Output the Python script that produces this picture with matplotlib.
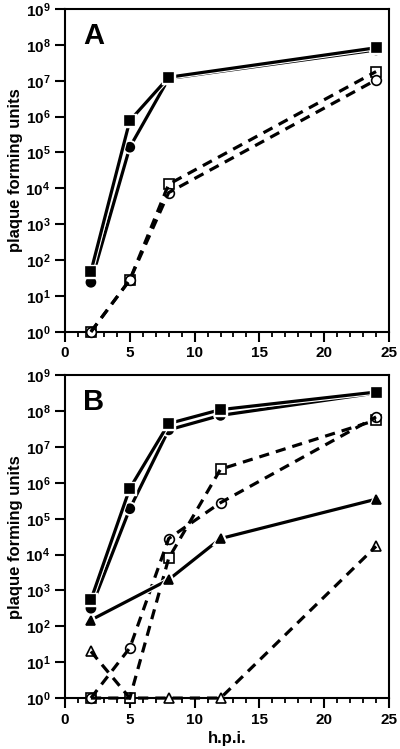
import numpy as np
import matplotlib
matplotlib.use("Agg")
import matplotlib.pyplot as plt
import matplotlib.patheffects as pe
from matplotlib.ticker import FixedLocator, MultipleLocator, FixedFormatter

plt.rcParams['font.family'] = ['Liberation Sans', 'DejaVu Sans']
plt.rcParams['font.weight'] = 'bold'
plt.rcParams['mathtext.fontset'] = 'custom'
plt.rcParams['mathtext.rm'] = 'Liberation Sans:bold'
plt.rcParams['mathtext.bf'] = 'Liberation Sans:bold'

# --- Panel A data (hours post infection, pfu) ---
a_x = [2, 5, 8, 24]
a_fsq = [48, 7.7e5, 1.25e7, 8.3e7]     # filled squares, solid
a_fci = [24, 1.4e5, 1.15e7, 7.2e7]     # filled circles, solid
a_osq = [1, 28, 1.3e4, 1.8e7]          # open squares, dashed
a_oci = [1, 28, 7.6e3, 1.05e7]         # open circles, dashed

# --- Panel B data ---
b_x = [2, 5, 8, 12, 24]
b_fsq = [550, 7e5, 4.5e7, 1.1e8, 3.4e8]
b_fci = [320, 1.9e5, 3.0e7, 7.6e7, 3.2e8]
b_osq = [1, 1, 7.9e3, 2.4e6, 5.6e7]
b_oci = [1, 25, 2.8e4, 2.8e5, 6.9e7]
b_ftr = [150, None, 2.0e3, 2.8e4, 3.5e5]
b_otr = [20, 1, 1, 1, 1.7e4]

xticks = [0, 5, 10, 15, 20, 25]
ydecades = list(range(0, 10))
ytick_labels = [r'$\mathbf{10^{%d}}$' % d for d in ydecades]

LW = 2.3
halo = [pe.Stroke(linewidth=LW + 1.6, foreground='white'), pe.Normal()]


def series(ax, x, y, marker, filled, dashed):
    pts = [(xi, yi) for xi, yi in zip(x, y) if yi is not None]
    xs = [p[0] for p in pts]
    ys = [p[1] for p in pts]
    ls = (0, (3.2, 2.2)) if dashed else '-'
    face = 'black' if filled else 'white'
    if filled:
        ax.plot(xs, ys, color='black', lw=LW, ls=ls, marker=marker, ms=6.5,
                mfc=face, mec='black', mew=1.2, zorder=4, clip_on=False,
                path_effects=halo)
    else:
        ax.plot(xs, ys, ls='none', marker=marker, ms=7, mfc=face,
                mec='black', mew=1.2, zorder=3, clip_on=False)
        ax.plot(xs, ys, color='black', lw=LW, ls=ls, zorder=4,
                clip_on=False)


def style(ax, letter, xlabel):
    ax.set_yscale('log')
    ax.set_xlim(0, 25)
    ax.set_ylim(1, 1e9)
    ax.yaxis.set_major_locator(FixedLocator([10.0 ** d for d in ydecades]))
    ax.yaxis.set_major_formatter(FixedFormatter(ytick_labels))
    ax.yaxis.set_minor_locator(FixedLocator([]))
    ax.set_xticks(xticks)
    ax.xaxis.set_minor_locator(MultipleLocator(1))
    ax.tick_params(which='major', direction='out', length=7, width=1.5,
                   labelsize=11)
    ax.tick_params(which='minor', direction='out', length=3.5, width=1.3)
    for s in ax.spines.values():
        s.set_linewidth(1.5)
    ax.set_ylabel('plaque forming units', fontsize=12, fontweight='bold',
                  labelpad=2)
    if xlabel:
        ax.set_xlabel('h.p.i.', fontsize=12, fontweight='bold', labelpad=3)
    ax.text(0.055, 0.96, letter, transform=ax.transAxes, fontsize=21,
            fontweight='bold', va='top', ha='left')


fig = plt.figure(figsize=(4, 7.49), dpi=100)
axA = fig.add_axes([0.1625, 0.557, 0.81, 0.431])
axB = fig.add_axes([0.1625, 0.068, 0.81, 0.431])

series(axA, a_x, a_osq, 's', False, True)
series(axA, a_x, a_oci, 'o', False, True)
series(axA, a_x, a_fci, 'o', True, False)
series(axA, a_x, a_fsq, 's', True, False)
style(axA, 'A', False)

series(axB, b_x, b_otr, '^', False, True)
series(axB, b_x, b_osq, 's', False, True)
series(axB, b_x, b_oci, 'o', False, True)
series(axB, b_x, b_ftr, '^', True, False)
series(axB, b_x, b_fci, 'o', True, False)
series(axB, b_x, b_fsq, 's', True, False)
style(axB, 'B', True)

fig.savefig('out.png', dpi=100)
